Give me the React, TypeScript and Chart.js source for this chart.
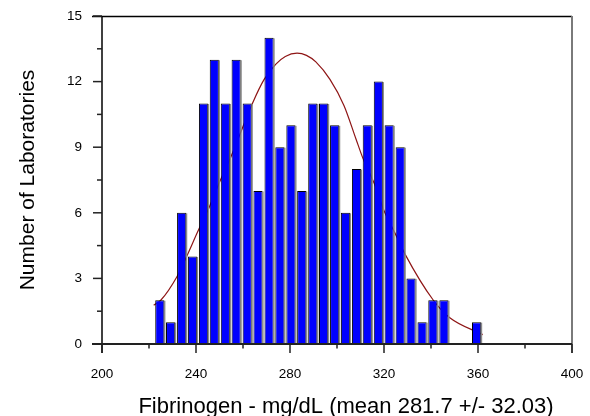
import React, { useEffect, useRef } from 'react';
import { Chart, registerables } from 'chart.js';

Chart.register(...registerables);

// Histogram bins (mg/dL, bin centres) and counts of laboratories
const binCenters = [224.6, 229.2, 233.9, 238.5, 243.2, 247.8, 252.5, 257.1, 261.8, 266.4, 271.1, 275.7, 280.4, 285.0, 289.7, 294.3, 299.0, 303.6, 308.3, 312.9, 317.6, 322.2, 326.9, 331.5, 336.2, 340.8, 345.5, 350.1, 354.7, 359.4];
const labCounts = [2, 1, 6, 4, 11, 13, 11, 13, 11, 7, 14, 9, 10, 7, 11, 11, 10, 6, 8, 10, 12, 10, 9, 3, 1, 2, 2, 0, 0, 1];

// Fitted normal curve
const curveX = [222, 225, 232, 236, 241, 245, 250, 255, 264, 269, 274, 278, 283, 287, 291, 297, 303, 308, 311, 316, 320, 325, 329, 341, 348, 362];
const curveY = [1.77, 2.0, 3.1, 4.0, 5.2, 6.1, 7.4, 8.6, 11.0, 12.1, 12.8, 13.15, 13.3, 13.2, 12.9, 12.1, 10.9, 9.4, 8.5, 7.3, 6.1, 5.0, 4.1, 2.0, 1.2, 0.43];

// Axis ticks
const xMajorTicks = [200, 240, 280, 320, 360, 400];
const xMinorTicks = [220, 260, 300, 340, 380];
const yMajorTicks = [0, 3, 6, 9, 12, 15];
const yMinorTicks = [1.5, 4.5, 7.5, 10.5, 13.5];

const xTitle = 'Fibrinogen - mg/dL (mean 281.7 +/- 32.03)';
const yTitle = 'Number of Laboratories';

const FONT = "'Liberation Sans', Arial, Helvetica, sans-serif";

const framePlugin = {
  id: 'frameTicks',
  afterDatasetsDraw(chart: any) {
    const meta = chart.getDatasetMeta(0);
    const ctx = chart.ctx;
    ctx.save();
    ctx.fillStyle = '#8a8a8a';
    meta.data.forEach((bar: any) => {
      const p = bar.getProps(['x', 'y', 'base', 'width'], true);
      if (p.base - p.y < 0.5) return;
      ctx.fillRect(p.x + p.width / 2 - 0.5, p.y + 0.5, 1.5, p.base - p.y - 0.5);
    });
    ctx.restore();
  },
  afterDraw(chart: any) {
    const { ctx, chartArea: a, scales } = chart;
    const xs = scales.x;
    const ys = scales.y;
    const line = (x1: number, y1: number, x2: number, y2: number) => {
      ctx.beginPath();
      ctx.moveTo(x1, y1);
      ctx.lineTo(x2, y2);
      ctx.stroke();
    };
    ctx.save();
    // top border
    ctx.strokeStyle = '#000';
    ctx.lineWidth = 1.5;
    line(92, a.top + 0.5, a.right, a.top + 0.5);
    // right border (grey)
    ctx.strokeStyle = '#7a7a7a';
    ctx.lineWidth = 2;
    line(a.right, a.top, a.right, a.bottom + 9);
    // left axis
    ctx.strokeStyle = '#000';
    ctx.lineWidth = 1.5;
    line(a.left, a.top, a.left, a.bottom + 9);
    // bottom axis
    ctx.strokeStyle = '#222';
    ctx.lineWidth = 2;
    line(92, a.bottom, a.right, a.bottom);
    // x ticks
    ctx.strokeStyle = '#222';
    ctx.lineWidth = 1.5;
    xMajorTicks.forEach((v) => {
      const px = xs.getPixelForValue(v);
      line(px, a.bottom, px, a.bottom + 9);
    });
    xMinorTicks.forEach((v) => {
      const px = xs.getPixelForValue(v);
      line(px, a.bottom, px, a.bottom + 4.5);
    });
    // y ticks
    yMajorTicks.forEach((v) => {
      const py = ys.getPixelForValue(v);
      line(a.left - 9, py, a.left, py);
    });
    yMinorTicks.forEach((v) => {
      const py = ys.getPixelForValue(v);
      line(a.left - 5, py, a.left, py);
    });
    // x axis title (placed as in the reference, slightly right of centre)
    ctx.fillStyle = '#000';
    ctx.font = `22px ${FONT}`;
    ctx.textAlign = 'center';
    ctx.textBaseline = 'alphabetic';
    ctx.fillText(xTitle, 346, 412.5);
    ctx.restore();
  },
};

const noPad = (scale: any) => {
  scale.paddingTop = 0;
  scale.paddingBottom = 0;
  scale.paddingLeft = 0;
  scale.paddingRight = 0;
};

export default function App() {
  const canvasRef = useRef<HTMLCanvasElement | null>(null);

  useEffect(() => {
    if (!canvasRef.current) return;
    const barData = binCenters.map((x, i) => ({ x, y: labCounts[i] }));
    const lineData = curveX.map((x, i) => ({ x, y: curveY[i] }));
    const chart = new Chart(canvasRef.current, {
      type: 'bar',
      data: {
        datasets: [
          {
            type: 'bar',
            data: barData as any,
            backgroundColor: '#0000ff',
            borderColor: '#000000',
            borderWidth: 1,
            categoryPercentage: 1,
            barPercentage: 0.85,
            order: 1,
          } as any,
          {
            type: 'line',
            data: lineData as any,
            borderColor: '#8e1515',
            borderWidth: 1.2,
            pointRadius: 0,
            fill: false,
            cubicInterpolationMode: 'monotone',
            order: 2,
          } as any,
        ],
      },
      options: {
        responsive: false,
        animation: false,
        layout: { padding: { left: 0, right: 18, top: 16, bottom: 0 } },
        plugins: {
          legend: { display: false },
          tooltip: { enabled: false },
        },
        scales: {
          x: {
            type: 'linear',
            min: 200,
            max: 400,
            offset: false,
            grid: { display: false, drawTicks: false, offset: false },
            border: { display: false },
            afterBuildTicks: (scale: any) => {
              scale.ticks = xMajorTicks.map((v) => ({ value: v }));
            },
            afterFit: (scale: any) => {
              scale.height = 72;
              noPad(scale);
            },
            ticks: {
              color: '#000',
              padding: 22,
              maxRotation: 0,
              font: { family: FONT, size: 13.5 },
            },
            title: { display: false },
          },
          y: {
            type: 'linear',
            min: 0,
            max: 15,
            grid: { display: false, drawTicks: false },
            border: { display: false },
            afterBuildTicks: (scale: any) => {
              scale.ticks = yMajorTicks.map((v) => ({ value: v }));
            },
            afterFit: (scale: any) => {
              scale.width = 102;
              noPad(scale);
            },
            ticks: {
              color: '#000',
              padding: 20,
              font: { family: FONT, size: 13.5 },
            },
            title: {
              display: true,
              text: yTitle,
              color: '#000',
              font: { family: FONT, size: 21, lineHeight: 1 },
              padding: { top: 17.5, bottom: 0 },
            },
          },
        },
      } as any,
      plugins: [framePlugin],
    });
    return () => chart.destroy();
  }, []);

  return (
    <div style={{ position: 'absolute', left: 0, top: 0, width: 590, height: 416, background: '#fff' }}>
      <canvas ref={canvasRef} width={590} height={416} style={{ display: 'block', width: 590, height: 416 }} />
    </div>
  );
}
